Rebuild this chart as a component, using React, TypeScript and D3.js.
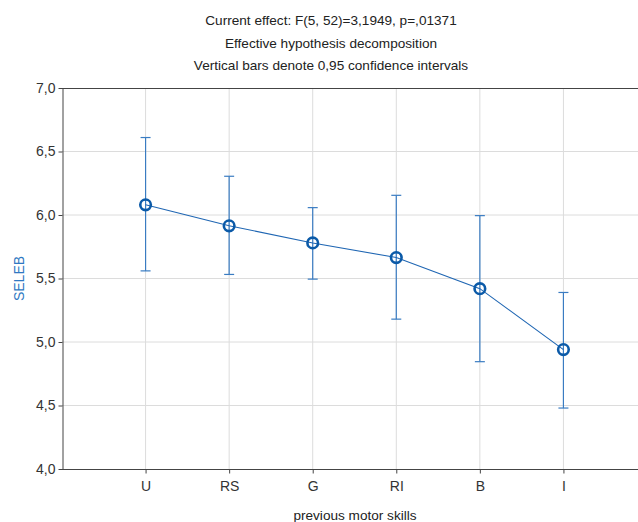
import React, { useRef, useEffect } from 'react';
import * as d3 from 'd3';

const categories = ['U', 'RS', 'G', 'RI', 'B', 'I'];
const means = [6.08, 5.915, 5.78, 5.665, 5.42, 4.94];
const upper = [6.61, 6.305, 6.058, 6.155, 5.995, 5.39];
const lower = [5.56, 5.532, 5.495, 5.18, 4.845, 4.48];
const yTicks = [4.0, 4.5, 5.0, 5.5, 6.0, 6.5, 7.0];
const titleLines = [
  'Current effect: F(5, 52)=3,1949, p=,01371',
  'Effective hypothesis decomposition',
  'Vertical bars denote 0,95 confidence intervals',
];

const App = () => {
  const ref = useRef<SVGSVGElement>(null);

  useEffect(() => {
    const svg = d3.select(ref.current);
    svg.selectAll('*').remove();

    const width = 638;
    const margin = { top: 88, left: 62, bottom: 469 };
    const plotRight = 647; // plot runs a little past the window

    const x = d3.scalePoint<string>()
      .domain(['', ...categories, ' '])
      .range([margin.left, plotRight]);

    const y = d3.scaleLinear().domain([4, 7]).range([margin.bottom, margin.top]);

    const font = '"Liberation Sans", Arial, sans-serif';

    // gridlines
    svg.append('g').selectAll('line').data(yTicks.slice(1, -1)).join('line')
      .attr('x1', margin.left).attr('x2', width)
      .attr('y1', d => y(d)).attr('y2', d => y(d))
      .attr('stroke', '#dcdcdc').attr('stroke-width', 1);
    svg.append('g').selectAll('line').data(categories).join('line')
      .attr('x1', d => x(d)!).attr('x2', d => x(d)!)
      .attr('y1', margin.top).attr('y2', margin.bottom)
      .attr('stroke', '#dcdcdc').attr('stroke-width', 1);

    // frame top
    svg.append('line')
      .attr('x1', margin.left).attr('x2', width)
      .attr('y1', margin.top + 0.5).attr('y2', margin.top + 0.5)
      .attr('stroke', '#444').attr('stroke-width', 1);

    // y axis
    const yAxis = svg.append('g')
      .attr('transform', `translate(${margin.left + 0.5},0)`)
      .call(d3.axisLeft(y).tickValues(yTicks).tickSize(4).tickSizeOuter(0)
        .tickFormat(d => d3.format('.1f')(d as number).replace('.', ',')));
    yAxis.select('.domain').attr('stroke', '#444');
    yAxis.selectAll('.tick line').attr('stroke', '#444');
    yAxis.selectAll('text').attr('font-family', font).attr('font-size', 14).attr('fill', '#333').attr('x', -7);

    // x axis
    const xAxis = svg.append('g')
      .attr('transform', `translate(0,${margin.bottom + 0.5})`)
      .call(d3.axisBottom(x).tickValues(categories).tickSize(4).tickSizeOuter(0));
    xAxis.select('.domain').attr('stroke', '#444').attr('d', `M${margin.left},0H${width}`);
    xAxis.selectAll('.tick line').attr('stroke', '#444');
    xAxis.selectAll('text').attr('font-family', font).attr('font-size', 14).attr('fill', '#333').attr('dy', '0.9em').attr('y', 9);

    // error bars
    const eb = svg.append('g').attr('stroke', '#3a7cc2').attr('stroke-width', 1.2);
    categories.forEach((c, i) => {
      const cx = x(c)!;
      eb.append('line').attr('x1', cx).attr('x2', cx).attr('y1', y(upper[i])).attr('y2', y(lower[i]));
      eb.append('line').attr('x1', cx - 5).attr('x2', cx + 5).attr('y1', y(upper[i])).attr('y2', y(upper[i]));
      eb.append('line').attr('x1', cx - 5).attr('x2', cx + 5).attr('y1', y(lower[i])).attr('y2', y(lower[i]));
    });

    // mean line
    const line = d3.line<number>()
      .x((_, i) => x(categories[i])!)
      .y(d => y(d));
    svg.append('path').datum(means)
      .attr('fill', 'none').attr('stroke', '#1f66b3').attr('stroke-width', 1.1)
      .attr('d', line);

    svg.append('g').selectAll('circle').data(means).join('circle')
      .attr('cx', (_, i) => x(categories[i])!)
      .attr('cy', d => y(d))
      .attr('r', 5.3)
      .attr('fill', 'none')
      .attr('stroke', '#0b5aa8')
      .attr('stroke-width', 2.6);

    // titles
    svg.append('g').selectAll('text').data(titleLines).join('text')
      .attr('x', 331).attr('y', (_, i) => 25 + i * 22.5)
      .attr('text-anchor', 'middle')
      .attr('font-family', font).attr('font-size', 13.6).attr('fill', '#222')
      .text(d => d);

    // axis labels
    svg.append('text')
      .attr('x', 355).attr('y', 520)
      .attr('text-anchor', 'middle')
      .attr('font-family', font).attr('font-size', 13.6).attr('fill', '#222')
      .text('previous motor skills');

    svg.append('text')
      .attr('transform', `translate(24,${(margin.top + margin.bottom) / 2}) rotate(-90)`)
      .attr('text-anchor', 'middle')
      .attr('font-family', font).attr('font-size', 14).attr('fill', '#2f78c2')
      .text('SELEB');
  }, []);

  return (
    <svg ref={ref} width={638} height={522}
      style={{ position: 'absolute', left: 0, top: 0, background: '#fff' }} />
  );
};

export default App;
